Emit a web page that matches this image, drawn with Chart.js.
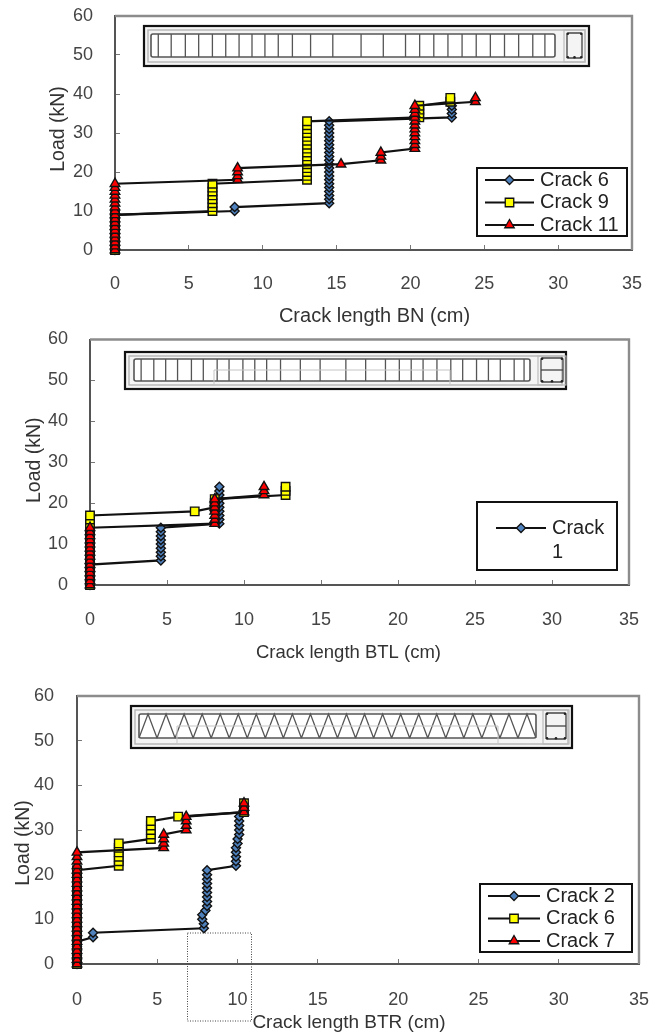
<!DOCTYPE html>
<html><head><meta charset="utf-8">
<script src="https://cdn.jsdelivr.net/npm/chart.js@4"></script>
<style>
html,body{margin:0;padding:0;background:#fff;width:654px;height:1034px;overflow:hidden}
canvas{position:absolute;left:0;filter:blur(0.45px)}
</style></head><body>
<canvas id="c1" style="top:0px" width="654" height="330"></canvas>
<canvas id="c2" style="top:330px" width="654" height="345"></canvas>
<canvas id="c3" style="top:675px" width="654" height="359"></canvas>
<script>
// ---------- axis ticks ----------
const xTicks = [0,5,10,15,20,25,30,35];
const yTicks = [0,10,20,30,40,50,60];
const xTitles = ["Crack length BN (cm)","Crack length BTL (cm)","Crack length BTR (cm)"];
const yTitle = "Load (kN)";

// ---------- Beam BN ----------
const bnNames = ["Crack 6","Crack 9","Crack 11"];
const bn6X = [0,0,0,0,0,0,0,0,0,0,8.1,8.1,14.5,14.5,14.5,14.5,14.5,14.5,14.5,14.5,14.5,14.5,14.5,14.5,14.5,14.5,14.5,14.5,14.5,14.5,14.5,14.5,14.5,14.5,22.8,22.8,22.8,22.8];
const bn6Y = [0,1,2,3,4,5,6,7,8,9,10,11,12,13,14,15,16,17,18,19,20,21,22,23,24,25,26,27,28,29,30,31,32,33,34,35,36,37];
const bn9X = [0,0,0,0,0,0,0,0,0,0,6.6,6.6,6.6,6.6,6.6,6.6,6.6,6.6,13,13,13,13,13,13,13,13,13,13,13,13,13,13,13,13,20.6,20.6,20.6,20.6,22.7,22.7];
const bn9Y = [0,1,2,3,4,5,6,7,8,9,10,11,12,13,14,15,16,17,18,19,20,21,22,23,24,25,26,27,28,29,30,31,32,33,34,35,36,37,38,39];
const bn11X = [0,0,0,0,0,0,0,0,0,0,0,0,0,0,0,0,0,0,8.3,8.3,8.3,8.3,15.3,18,18,18,20.3,20.3,20.3,20.3,20.3,20.3,20.3,20.3,20.3,20.3,20.3,20.3,24.4,24.4];
const bn11Y = [0,1,2,3,4,5,6,7,8,9,10,11,12,13,14,15,16,17,18,19,20,21,22,23,24,25,26,27,28,29,30,31,32,33,34,35,36,37,38,39];

// ---------- Beam BTL ----------
const btlNames = ["Crack 1"];
const btl1X = [0,0,0,0,0,0,4.6,4.6,4.6,4.6,4.6,4.6,4.6,4.6,4.6,8.4,8.4,8.4,8.4,8.4,8.4,8.4,8.4,8.4,8.4];
const btl1Y = [0,1,2,3,4,5,6,7,8,9,10,11,12,13,14,15,16,17,18,19,20,21,22,23,24];
const btl2X = [0,0,0,0,0,0,0,0,0,0,0,0,0,0,0,0,0,0,6.8,8.1,8.1,8.1,12.7,12.7,12.7];
const btl2Y = [0,1,2,3,4,5,6,7,8,9,10,11,12,13,14,15,16,17,18,19,20,21,22,23,24];
const btl3X = [0,0,0,0,0,0,0,0,0,0,0,0,0,0,0,8.1,8.1,8.1,8.1,8.1,8.1,8.1,11.3,11.3,11.3];
const btl3Y = [0,1,2,3,4,5,6,7,8,9,10,11,12,13,14,15,16,17,18,19,20,21,22,23,24];

// ---------- Beam BTR ----------
const btrNames = ["Crack 2","Crack 6","Crack 7"];
const btr2X = [0,0,0,0,0,0,1,1,7.9,7.9,7.8,7.8,8,8.1,8.1,8.1,8.1,8.1,8.1,8.1,8.1,8.1,9.9,9.9,9.9,9.9,9.9,10,10,10.1,10.1,10.1,10.1,10.1];
const btr2Y = [0,1,2,3,4,5,6,7,8,9,10,11,12,13,14,15,16,17,18,19,20,21,22,23,24,25,26,27,28,29,30,31,32,33];
const btr6X = [0,0,0,0,0,0,0,0,0,0,0,0,0,0,0,0,0,0,0,0,0,0,2.6,2.6,2.6,2.6,2.6,2.6,4.6,4.6,4.6,4.6,4.6,6.3,10.4,10.4,10.4];
const btr6Y = [0,1,2,3,4,5,6,7,8,9,10,11,12,13,14,15,16,17,18,19,20,21,22,23,24,25,26,27,28,29,30,31,32,33,34,35,36];
const btr7X = [0,0,0,0,0,0,0,0,0,0,0,0,0,0,0,0,0,0,0,0,0,0,0,0,0,0,5.4,5.4,5.4,5.4,6.8,6.8,6.8,6.8,10.4,10.4,10.4];
const btr7Y = [0,1,2,3,4,5,6,7,8,9,10,11,12,13,14,15,16,17,18,19,20,21,22,23,24,25,26,27,28,29,30,31,32,33,34,35,36];

// ---------- beam sketch stirrups (fractions along the stirrup cage) ----------
const stirrups1 = [.018,.05,.085,.118,.152,.185,.218,.25,.282,.315,.35,.395,.45,.52,.575,.63,.665,.7,.735,.77,.805,.84,.875,.91,.945,.975];
const stirrups2 = [.018,.05,.08,.11,.145,.175,.21,.24,.275,.305,.335,.37,.42,.47,.535,.585,.635,.67,.7,.73,.765,.8,.83,.865,.895,.925,.96,.985];

const FONT = "'Liberation Sans', Arial, sans-serif";
const BLUE = "#4f81bd", YEL = "#ffff00", RED = "#ff0000";

function xy(xs, ys){ return xs.map((x,i)=>({x:x, y:ys[i]})); }
function ds(label, xs, ys, style, color, r, order){
  return {label, data:xy(xs,ys), showLine:true, tension:0, clip:false, order,
    borderColor:"#111", borderWidth:2.2, pointStyle:style, pointRadius:r,
    pointBackgroundColor:color, pointBorderColor:"#111", pointBorderWidth:1.4};
}
function legendEntry(ctx, x0, x1, y, style, color, r){
  ctx.strokeStyle="#111"; ctx.lineWidth=2;
  ctx.beginPath(); ctx.moveTo(x0,y); ctx.lineTo(x1,y); ctx.stroke();
  ctx.fillStyle=color; ctx.strokeStyle="#111"; ctx.lineWidth=1.3;
  Chart.helpers.drawPoint(ctx,{pointStyle:style,radius:r,rotation:0,borderWidth:1.3},(x0+x1)/2,y);
}
function cage(ctx, b, stirrups, truss, lap){
  // outer frame, inner gray outline and stirrup cage of the small beam sketch
  ctx.save();
  ctx.fillStyle="#f4f4f4"; ctx.fillRect(b.x,b.y,b.w,b.h);
  ctx.strokeStyle="#111"; ctx.lineWidth=2.2; ctx.strokeRect(b.x,b.y,b.w,b.h);
  ctx.strokeStyle="#b5b5b5"; ctx.lineWidth=1.4;
  ctx.strokeRect(b.x+4,b.y+4,b.w-8,b.h-8);
  ctx.fillStyle="#fff"; ctx.fillRect(b.cx,b.cy,b.cw,b.ch);
  ctx.strokeStyle="#555"; ctx.lineWidth=1.6;
  ctx.beginPath(); ctx.roundRect(b.cx,b.cy,b.cw,b.ch,2); ctx.stroke();
  ctx.lineWidth=1.3; ctx.beginPath();
  if(truss){
    const n=truss, s=b.cw/n;
    for(let i=0;i<n;i++){
      ctx.moveTo(b.cx+i*s,b.cy+b.ch); ctx.lineTo(b.cx+(i+.5)*s,b.cy);
      ctx.lineTo(b.cx+(i+1)*s,b.cy+b.ch);
    }
  } else {
    stirrups.forEach(f=>{ const x=b.cx+f*b.cw; ctx.moveTo(x,b.cy); ctx.lineTo(x,b.cy+b.ch); });
  }
  ctx.stroke();
  if(lap){
    ctx.strokeStyle="#c4c4c4"; ctx.lineWidth=1; ctx.beginPath();
    ctx.moveTo(b.cx+lap*.3,b.y+b.h-4); ctx.lineTo(b.cx+lap,b.y+b.h-4); ctx.lineTo(b.cx+lap,b.cy+b.ch/2);
    ctx.lineTo(b.cx+b.cw-lap,b.cy+b.ch/2); ctx.lineTo(b.cx+b.cw-lap,b.y+b.h-4); ctx.lineTo(b.cx+b.cw-lap*.3,b.y+b.h-4);
    ctx.stroke();
  }
  // cross-section
  ctx.strokeStyle="#bbb"; ctx.lineWidth=1.2; ctx.strokeRect(b.sx-3,b.y+4,b.sw+6,b.h-8);
  ctx.strokeStyle="#444"; ctx.lineWidth=1.3;
  ctx.beginPath(); ctx.roundRect(b.sx,b.cy-1,b.sw,b.ch+2,2); ctx.stroke();
  if(lap){ ctx.beginPath(); ctx.moveTo(b.sx,b.cy+b.ch/2); ctx.lineTo(b.sx+b.sw,b.cy+b.ch/2); ctx.stroke(); }
  ctx.fillStyle="#222";
  [[.05,.03],[.95,.03],[.05,.97],[.5,.97],[.95,.97]].forEach(p=>{
    ctx.beginPath(); ctx.arc(b.sx+p[0]*b.sw,b.cy-1+p[1]*(b.ch+2),1.3,0,7); ctx.fill();
  });
  ctx.restore();
}
function nudgeTitle(scale, dx, dy){
  const orig = scale.drawTitle;
  scale.drawTitle = function(){
    const c=this.ctx; c.save(); c.translate(dx,dy); orig.call(this); c.restore();
  };
}

function makeChart(id, o){
  const deco = {
    id:"deco",
    beforeDraw(chart){
      nudgeTitle(chart.scales.x,o.xT[0],o.xT[1]);
      nudgeTitle(chart.scales.y,o.yT[0],o.yT[1]);
    },
    beforeDatasetsDraw(chart){
      const a=chart.chartArea, ctx=chart.ctx;
      ctx.save();
      ctx.strokeStyle="#8c8c8c"; ctx.lineWidth=2.4;
      ctx.beginPath(); ctx.moveTo(a.left,a.top); ctx.lineTo(a.right,a.top); ctx.lineTo(a.right,a.bottom); ctx.stroke();
      ctx.restore();
      o.beam(ctx);
    },
    afterDraw(chart){
      const ctx=chart.ctx, l=o.legend;
      ctx.save();
      ctx.fillStyle="#fff"; ctx.fillRect(l.x,l.y,l.w,l.h);
      ctx.strokeStyle="#111"; ctx.lineWidth=2; ctx.strokeRect(l.x,l.y,l.w,l.h);
      ctx.font="20px "+FONT; ctx.textBaseline="middle"; ctx.fillStyle="#222";
      o.legendRows.forEach((row,i)=>{
        const y=l.y+l.first+i*l.step;
        legendEntry(ctx,l.lx0,l.lx1,y,row[1],row[2],row[3]);
        ctx.fillStyle="#222";
        ctx.fillText(row[0],l.tx,y);
      });
      if(o.legendExtra) { ctx.fillText(o.legendExtra,l.tx,l.y+l.first+l.step); }
      if(o.after) o.after(ctx);
      ctx.restore();
    }
  };
  return new Chart(document.getElementById(id),{
    type:"scatter",
    data:{datasets:o.datasets},
    plugins:[deco],
    options:{
      responsive:false, animation:false,
      layout:{padding:{top:o.top,right:o.right,left:0,bottom:0}},
      plugins:{legend:{display:false},tooltip:{enabled:false}},
      scales:{
        x:{type:"linear",min:0,max:35,
          afterBuildTicks(s){ s.ticks=xTicks.map(v=>({value:v})); },
          afterFit(s){ s.height=o.bottom; s.paddingLeft=0; s.paddingRight=0; },
          border:{display:true,color:"#555",width:2},
          grid:{drawOnChartArea:false,drawTicks:true,tickLength:-5,color:"#777",tickWidth:1},
          ticks:{padding:o.xPad,maxRotation:0,autoSkip:false,color:"#444",font:{family:FONT,size:18}},
          title:{display:true,text:o.xTitle,color:"#333",font:{family:FONT,size:o.xTitleSize},padding:0}
        },
        y:{type:"linear",min:0,max:60,
          afterBuildTicks(s){ s.ticks=yTicks.map(v=>({value:v})); },
          afterFit(s){ s.width=o.left; s.paddingTop=0; s.paddingBottom=0; },
          border:{display:true,color:"#555",width:2},
          grid:{drawOnChartArea:false,drawTicks:true,tickLength:-5,color:"#777",tickWidth:1},
          ticks:{padding:o.yPad,autoSkip:false,color:"#444",font:{family:FONT,size:18}},
          title:{display:true,text:yTitle,color:"#333",font:{family:FONT,size:19.5},padding:0}
        }
      }
    }
  });
}

makeChart("c1",{
  top:16,right:22,left:115,bottom:80,xPad:28,yPad:27,xTitle:xTitles[0],xTitleSize:20,xT:[1,-2],yT:[47,-4],
  datasets:[ds(bnNames[0],bn6X,bn6Y,"rectRot",BLUE,4.5,3),ds(bnNames[1],bn9X,bn9Y,"rect",YEL,6,2),ds(bnNames[2],bn11X,bn11Y,"triangle",RED,5.5,1)],
  legend:{x:477,y:168,w:150,h:68,lx0:485,lx1:534,tx:540,first:12,step:22.5},
  legendRows:[[bnNames[0],"rectRot",BLUE,4.5],[bnNames[1],"rect",YEL,6],[bnNames[2],"triangle",RED,5.5]],
  beam(ctx){ cage(ctx,{x:144,y:26,w:445,h:40,cx:151,cy:34,cw:404,ch:23,sx:567,sw:15},stirrups1,0,0); }
});
makeChart("c2",{
  top:9.5,right:25,left:90,bottom:90,xPad:29,yPad:27,xTitle:xTitles[1],xTitleSize:18.5,xT:[-11,-11],yT:[23,-2],
  datasets:[ds(btlNames[0],btl1X,btl1Y,"rectRot",BLUE,4.5,3),ds("Crack 2",btl2X,btl2Y,"rect",YEL,6,2),ds("Crack 3",btl3X,btl3Y,"triangle",RED,5.5,1)],
  legend:{x:477,y:172,w:140,h:68,lx0:496,lx1:546,tx:552,first:26,step:24},
  legendRows:[["Crack","rectRot",BLUE,4.5]],legendExtra:"1",
  beam(ctx){ cage(ctx,{x:125,y:22,w:441,h:37,cx:134,cy:29,cw:396,ch:22,sx:541,sw:22},stirrups2,0,80); }
});
makeChart("c3",{
  top:21,right:15,left:77,bottom:70,xPad:30,yPad:28,xTitle:xTitles[2],xTitleSize:19,xT:[-9,0],yT:[12,13],
  datasets:[ds(btrNames[0],btr2X,btr2Y,"rectRot",BLUE,4.5,3),ds(btrNames[1],btr6X,btr6Y,"rect",YEL,6,2),ds(btrNames[2],btr7X,btr7Y,"triangle",RED,5.5,1)],
  legend:{x:480,y:209,w:152,h:68,lx0:488,lx1:540,tx:546,first:12,step:22.5},
  legendRows:[[btrNames[0],"rectRot",BLUE,4.5],[btrNames[1],"rect",YEL,6],[btrNames[2],"triangle",RED,5.5]],
  beam(ctx){ cage(ctx,{x:131,y:31,w:441,h:42,cx:139,cy:39,cw:397,ch:24,sx:546,sw:20},null,22,38); },
  after(ctx){
    ctx.strokeStyle="#444"; ctx.lineWidth=1; ctx.setLineDash([1,1.5]);
    ctx.strokeRect(187.5,258,64,88); ctx.setLineDash([]);
  }
});
</script>
</body></html>
